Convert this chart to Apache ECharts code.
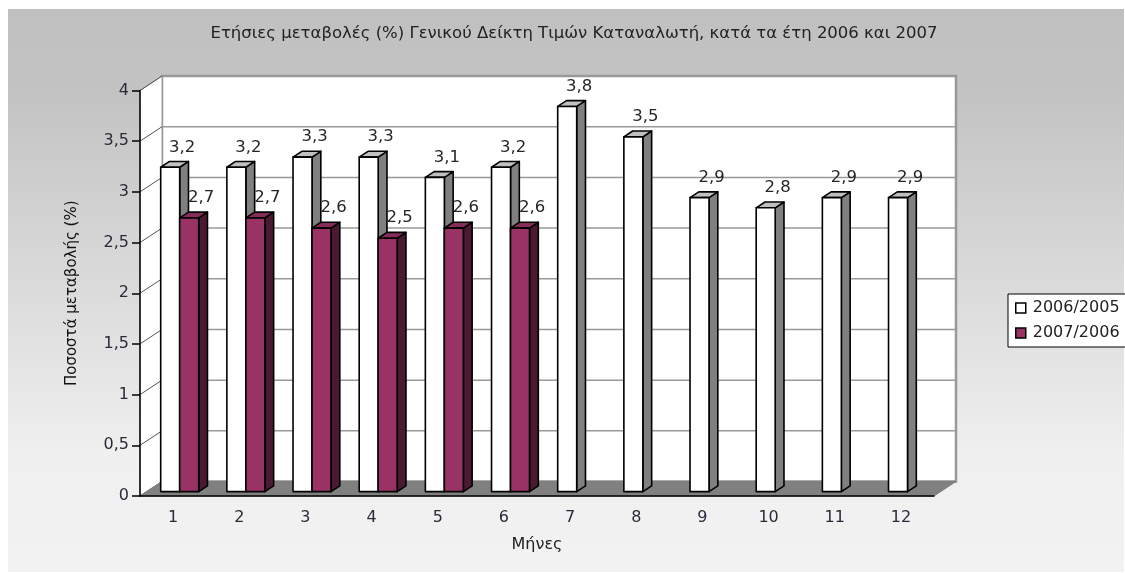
<!DOCTYPE html>
<html lang="el">
<head>
    <meta charset="UTF-8">
    <title>Ετήσιες μεταβολές ΓΔΤΚ 2006-2007</title>
    <script src="https://cdn.jsdelivr.net/npm/echarts@6.0.0/dist/echarts.min.js"></script>
    <style>
        html, body { margin: 0; padding: 0; background: #fff; }
        #chart { width: 1125px; height: 573px; }
    </style>
</head>
<body>
<div id="chart"></div>
<script>
    // δεδομένα
    var months = ['1', '2', '3', '4', '5', '6', '7', '8', '9', '10', '11', '12'];
    var rates2006 = [3.2, 3.2, 3.3, 3.3, 3.1, 3.2, 3.8, 3.5, 2.9, 2.8, 2.9, 2.9];
    var rates2007 = [2.7, 2.7, 2.6, 2.5, 2.6, 2.6]; // μόνο Ιαν-Ιουν
    var yTicks = [0, 0.5, 1, 1.5, 2, 2.5, 3, 3.5, 4];

    var FONT = 'DejaVu Sans';
    var WALL_DX = 22, WALL_DY = -14.5;   // βάθος 3D
    var BAR_FRAC = 0.287;

    function fmt(v) {
        return String(v).replace('.', ',');
    }

    function toPairs(arr) {
        return arr.map(function (v, i) { return [i, v]; });
    }

    // τοίχοι, δάπεδο και γραμμές πλέγματος
    function renderWalls(params, api) {
        var cs = params.coordSys;
        var x0 = cs.x, x1 = cs.x + cs.width;
        var y0 = api.coord([0, 0])[1];
        var y4 = api.coord([0, yTicks[yTicks.length - 1]])[1];
        var kids = [];
        kids.push({
            type: 'rect',
            shape: {x: x0 + WALL_DX, y: y4 + WALL_DY, width: cs.width, height: y0 - y4},
            style: {fill: '#fff', stroke: '#999', lineWidth: 2.5}
        });
        kids.push({
            type: 'polygon',
            shape: {points: [[x0, y4], [x0 + WALL_DX, y4 + WALL_DY], [x0 + WALL_DX, y0 + WALL_DY], [x0, y0]]},
            style: {fill: '#fff', stroke: '#999', lineWidth: 1}
        });
        yTicks.forEach(function (t) {
            var y = api.coord([0, t])[1];
            kids.push({
                type: 'line',
                shape: {x1: x0 + WALL_DX, y1: y + WALL_DY, x2: x1 + WALL_DX, y2: y + WALL_DY},
                style: {stroke: '#999', lineWidth: 1.5}
            });
            kids.push({
                type: 'line',
                shape: {x1: x0, y1: y, x2: x0 + WALL_DX, y2: y + WALL_DY},
                style: {stroke: '#555', lineWidth: 1}
            });
        });
        kids.push({
            type: 'polygon',
            shape: {points: [[x0, y0], [x0 + WALL_DX, y0 + WALL_DY], [x1 + WALL_DX, y0 + WALL_DY], [x1, y0]]},
            style: {fill: '#808080', stroke: '#808080', lineWidth: 1}
        });
        return {type: 'group', children: kids};
    }

    function makeBar(side, colors) {
        return function (params, api) {
            var i = api.value(0), v = api.value(1);
            var top = api.coord([i, v]);
            var bot = api.coord([i, 0]);
            var bw = api.size([1, 0])[0] * BAR_FRAC;
            var fx = WALL_DX * 0.3, fy = WALL_DY * 0.3;
            var dx = WALL_DX * 0.4, dy = WALL_DY * 0.4;
            var xl = top[0] + side * bw + fx, xr = xl + bw;
            var yt = top[1] + fy, yb = bot[1] + fy;
            var edge = {stroke: '#000', lineWidth: 1.6, lineJoin: 'round'};
            return {
                type: 'group',
                children: [
                    {
                        type: 'polygon',
                        shape: {points: [[xr, yt], [xr + dx, yt + dy], [xr + dx, yb + dy], [xr, yb]]},
                        style: Object.assign({fill: colors.side}, edge)
                    },
                    {
                        type: 'polygon',
                        shape: {points: [[xl, yt], [xl + dx, yt + dy], [xr + dx, yt + dy], [xr, yt]]},
                        style: Object.assign({fill: colors.top}, edge)
                    },
                    {
                        type: 'rect',
                        shape: {x: xl, y: yt, width: bw, height: yb - yt},
                        style: Object.assign({fill: colors.front}, edge)
                    },
                    {
                        type: 'text',
                        x: xl + bw / 2 + 12,
                        y: yt - 20,
                        style: {
                            text: fmt(v), fill: '#262626', font: '16.5px "' + FONT + '"',
                            align: 'center', verticalAlign: 'middle'
                        }
                    }
                ]
            };
        };
    }

    var chart = echarts.init(document.getElementById('chart'));

    chart.setOption({
        backgroundColor: '#fff',
        animation: false,
        graphic: [{
            type: 'rect',
            z: -10,
            shape: {x: 8, y: 9, width: 1116, height: 563},
            style: {
                fill: new echarts.graphic.LinearGradient(0, 0, 0, 1, [
                    {offset: 0, color: '#c0c0c0'},
                    {offset: 0.15, color: '#c3c3c3'},
                    {offset: 0.8, color: '#f0f0f0'},
                    {offset: 1, color: '#f2f2f2'}
                ])
            }
        }],
        title: {
            text: 'Ετήσιες μεταβολές (%) Γενικού Δείκτη Τιμών Καταναλωτή, κατά τα έτη 2006 και 2007',
            left: 574,
            top: 25,
            padding: 0,
            textAlign: 'center',
            textStyle: {fontFamily: FONT, fontSize: 16.5, fontWeight: 'normal', color: '#222'}
        },
        legend: {
            data: ['2006/2005', '2007/2006'],
            orient: 'vertical',
            left: 1008,
            top: 294,
            backgroundColor: '#fff',
            borderColor: '#000',
            borderWidth: 1,
            padding: [6, 8, 6, 7],
            itemWidth: 10,
            itemHeight: 10,
            itemGap: 9,
            icon: 'rect',
            itemStyle: {borderColor: '#000', borderWidth: 1.5},
            textStyle: {fontFamily: FONT, fontSize: 16, color: '#222', padding: [0, 0, 0, 2]}
        },
        grid: {left: 140, right: 191, top: 90.5, bottom: 77},
        xAxis: {
            type: 'category',
            data: months,
            boundaryGap: true,
            name: 'Μήνες',
            nameLocation: 'middle',
            nameGap: 41,
            nameTextStyle: {fontFamily: FONT, fontSize: 16, color: '#222'},
            z: 5,
            axisLine: {lineStyle: {color: '#000', width: 1.5}},
            axisTick: {length: 7, lineStyle: {color: '#000', width: 1.5}},
            axisLabel: {fontFamily: FONT, fontSize: 16, color: '#2a2a3a', margin: 14},
            splitLine: {show: false}
        },
        yAxis: {
            type: 'value',
            min: 0,
            max: 4,
            interval: 0.5,
            name: 'Ποσοστά μεταβολής (%)',
            nameLocation: 'middle',
            nameGap: 60,
            nameTextStyle: {fontFamily: FONT, fontSize: 15, color: '#111'},
            z: 5,
            axisLine: {show: true, lineStyle: {color: '#000', width: 1.5}},
            axisTick: {show: true, length: 8, lineStyle: {color: '#000', width: 1.5}},
            axisLabel: {
                fontFamily: FONT, fontSize: 16, color: '#2a2a3a', margin: 11,
                formatter: fmt
            },
            splitLine: {show: false}
        },
        series: [
            {
                name: 'walls',
                type: 'custom',
                z: 1,
                silent: true,
                data: [[0, 0]],
                renderItem: renderWalls
            },
            {
                name: '2006/2005',
                type: 'custom',
                z: 2,
                itemStyle: {color: '#ffffff', borderColor: '#000'},
                data: toPairs(rates2006),
                renderItem: makeBar(-1, {front: '#ffffff', side: '#808080', top: '#c0c0c0'})
            },
            {
                name: '2007/2006',
                type: 'custom',
                z: 3,
                itemStyle: {color: '#993366', borderColor: '#000'},
                data: toPairs(rates2007),
                renderItem: makeBar(0, {front: '#993366', side: '#4a1a33', top: '#862c59'})
            }
        ]
    });
</script>
</body>
</html>
